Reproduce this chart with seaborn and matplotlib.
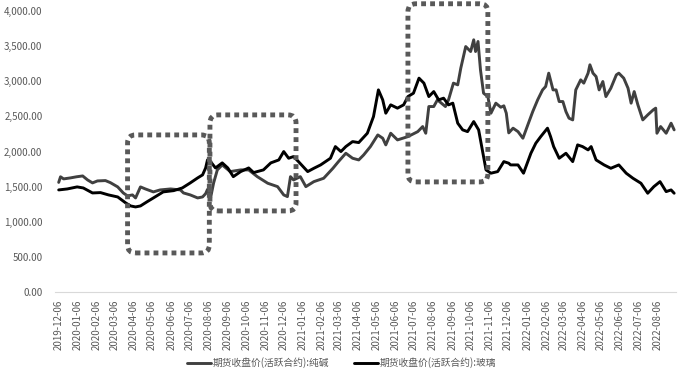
import matplotlib
matplotlib.use("Agg")
import matplotlib.pyplot as plt
import matplotlib.dates as mdates
from matplotlib.patches import FancyBboxPatch
from matplotlib.ticker import StrMethodFormatter
import seaborn as sns
import pandas as pd

soda_label = "期货收盘价(活跃合约):纯碱"
glass_label = "期货收盘价(活跃合约):玻璃"

soda_dates = ["2019-12-06","2019-12-09","2019-12-14","2019-12-25","2020-01-04","2020-01-14","2020-01-22","2020-01-30","2020-02-07","2020-02-20","2020-02-28","2020-03-11","2020-03-20","2020-03-27","2020-04-04","2020-04-09","2020-04-17","2020-04-25","2020-05-08","2020-05-19","2020-06-05","2020-06-21","2020-06-26","2020-07-07","2020-07-19","2020-07-27","2020-08-01","2020-08-04","2020-08-09","2020-08-14","2020-08-20","2020-08-28","2020-09-10","2020-09-27","2020-10-10","2020-10-24","2020-11-10","2020-11-26","2020-12-06","2020-12-12","2020-12-17","2020-12-22","2021-01-02","2021-01-11","2021-01-24","2021-02-09","2021-02-24","2021-03-05","2021-03-17","2021-03-28","2021-04-07","2021-04-15","2021-04-26","2021-05-08","2021-05-16","2021-05-21","2021-05-29","2021-06-09","2021-06-26","2021-07-12","2021-07-20","2021-07-25","2021-07-30","2021-08-07","2021-08-13","2021-08-26","2021-08-31","2021-09-08","2021-09-15","2021-09-20","2021-09-28","2021-10-06","2021-10-11","2021-10-14","2021-10-18","2021-10-22","2021-10-27","2021-11-03","2021-11-08","2021-11-16","2021-11-24","2021-11-29","2021-12-03","2021-12-07","2021-12-14","2021-12-22","2021-12-30","2022-01-07","2022-01-15","2022-01-23","2022-01-31","2022-02-05","2022-02-10","2022-02-17","2022-02-22","2022-02-27","2022-03-05","2022-03-10","2022-03-15","2022-03-21","2022-03-26","2022-04-03","2022-04-08","2022-04-15","2022-04-18","2022-04-23","2022-04-28","2022-05-03","2022-05-09","2022-05-14","2022-05-22","2022-05-31","2022-06-04","2022-06-12","2022-06-19","2022-06-24","2022-06-29","2022-07-05","2022-07-13","2022-07-21","2022-07-30","2022-08-03","2022-08-05","2022-08-11","2022-08-20","2022-08-28","2022-09-02"]
soda_values = [1560,1640,1610,1624,1640,1652,1595,1553,1581,1586,1557,1496,1410,1368,1382,1339,1496,1467,1425,1453,1467,1453,1410,1382,1339,1353,1400,1460,1339,1553,1738,1809,1714,1738,1738,1642,1548,1500,1382,1358,1642,1595,1642,1500,1571,1619,1761,1856,1975,1904,1880,1951,2070,2236,2189,2094,2260,2165,2212,2283,2355,2260,2640,2640,2735,2640,2735,2973,2949,3187,3494,3423,3590,3423,3566,3162,2830,2782,2545,2688,2630,2650,2545,2265,2332,2283,2189,2379,2568,2735,2877,2925,3115,2877,2877,2711,2711,2568,2474,2450,2877,3020,2973,3115,3234,3115,3067,2877,2996,2782,2901,3091,3115,3044,2901,2688,2853,2664,2450,2521,2593,2617,2260,2355,2260,2403,2308]

glass_dates = ["2019-12-06","2019-12-20","2020-01-05","2020-01-15","2020-01-30","2020-02-12","2020-02-25","2020-03-11","2020-03-24","2020-04-01","2020-04-09","2020-04-17","2020-04-28","2020-05-08","2020-05-24","2020-06-10","2020-06-24","2020-07-07","2020-07-19","2020-07-27","2020-08-01","2020-08-04","2020-08-09","2020-08-17","2020-08-28","2020-09-06","2020-09-15","2020-09-27","2020-10-10","2020-10-18","2020-11-03","2020-11-15","2020-11-28","2020-12-06","2020-12-14","2020-12-22","2020-12-30","2021-01-14","2021-01-24","2021-02-04","2021-02-20","2021-02-28","2021-03-09","2021-03-17","2021-03-28","2021-04-07","2021-04-21","2021-05-01","2021-05-09","2021-05-16","2021-05-21","2021-05-29","2021-06-09","2021-06-19","2021-06-26","2021-07-05","2021-07-14","2021-07-22","2021-07-30","2021-08-07","2021-08-15","2021-08-23","2021-08-31","2021-09-07","2021-09-15","2021-09-23","2021-10-01","2021-10-11","2021-10-19","2021-10-26","2021-10-31","2021-11-08","2021-11-19","2021-11-29","2021-12-07","2021-12-10","2021-12-22","2021-12-31","2022-01-12","2022-01-20","2022-01-28","2022-02-08","2022-02-13","2022-02-18","2022-02-27","2022-03-10","2022-03-21","2022-03-29","2022-04-06","2022-04-15","2022-04-20","2022-04-28","2022-05-11","2022-05-22","2022-06-04","2022-06-16","2022-06-27","2022-07-10","2022-07-21","2022-07-31","2022-08-10","2022-08-20","2022-08-28","2022-09-02"]
glass_values = [1453,1467,1496,1481,1410,1415,1382,1353,1268,1225,1211,1225,1286,1339,1425,1443,1481,1553,1624,1667,1766,1880,1856,1766,1838,1766,1642,1714,1766,1700,1738,1838,1880,1999,1904,1928,1856,1714,1761,1809,1904,2070,1999,2070,2141,2127,2260,2497,2877,2735,2545,2664,2617,2664,2782,2830,3044,2973,2782,2853,2735,2759,2664,2688,2403,2308,2283,2426,2308,1975,1738,1691,1714,1856,1833,1809,1809,1691,1975,2118,2212,2332,2212,2070,1904,1975,1856,2094,2070,2023,2070,1880,1809,1761,1809,1691,1619,1548,1406,1500,1571,1429,1453,1406]

# highlighted periods (annotation boxes): start, end, low, high
box_starts = ["2020-03-27", "2020-08-08", "2021-06-26"]
box_ends = ["2020-08-07", "2020-12-26", "2021-11-03"]
box_lows = [556, 1154, 1567]
box_highs = [2236, 2521, 4103]

sns.set_theme(style="white")
plt.rcParams["font.family"] = ["Noto Sans CJK SC", "DejaVu Sans"]

df = pd.concat([
    pd.DataFrame({"date": pd.to_datetime(soda_dates), "price": soda_values, "series": soda_label}),
    pd.DataFrame({"date": pd.to_datetime(glass_dates), "price": glass_values, "series": glass_label}),
], ignore_index=True)

fig = plt.figure(figsize=(6.83, 3.78), dpi=100)
ax = fig.add_axes([55/683, 1-292/378, (676-55)/683, (292-11)/378])

sns.lineplot(data=df, x="date", y="price", hue="series", estimator=None,
             palette={soda_label: "#404040", glass_label: "#000000"},
             linewidth=2.1, ax=ax)

ax.set_xlim(pd.Timestamp("2019-11-30"), pd.Timestamp("2022-09-05"))
ax.set_ylim(0, 4000)
ax.set_yticks(range(0, 4001, 500))
ax.yaxis.set_major_formatter(StrMethodFormatter("{x:,.2f}"))
ax.xaxis.set_major_locator(mdates.MonthLocator(bymonthday=6))
ax.xaxis.set_major_formatter(mdates.DateFormatter("%Y-%m-%d"))
ax.set_xlabel("")
ax.set_ylabel("")

for s in ["left", "top", "right"]:
    ax.spines[s].set_visible(False)
ax.spines["bottom"].set_color("#d9d9d9")
ax.spines["bottom"].set_linewidth(0.8)
ax.tick_params(axis="x", direction="out", length=4, width=0.8, color="#d9d9d9",
               labelsize=7, labelcolor="#595959", labelrotation=90, pad=1.5)
ax.tick_params(axis="y", length=0, labelsize=7, labelcolor="#595959", pad=9)
ax.grid(False)

# dotted rounded boxes
days_per_px = 1.628
val_per_px = 14.245
for s, e, lo, hi in zip(box_starts, box_ends, box_lows, box_highs):
    x0 = mdates.date2num(pd.Timestamp(s))
    x1 = mdates.date2num(pd.Timestamp(e))
    patch = FancyBboxPatch((x0, lo), x1 - x0, hi - lo,
                           boxstyle="round,pad=0,rounding_size=13",
                           mutation_aspect=val_per_px / days_per_px,
                           transform=ax.transData, fill=False,
                           edgecolor="#595959", linewidth=3.5,
                           linestyle=(0, (1, 0.85)), clip_on=False, zorder=5)
    ax.add_patch(patch)

handles, labels = ax.get_legend_handles_labels()
ax.get_legend().remove()
leg = fig.legend(handles, labels, loc="center", bbox_to_anchor=(0.5, 1-363/378),
                 ncol=2, frameon=False, fontsize=7, handlelength=2.5,
                 handletextpad=0.15, columnspacing=2.6)
for t in leg.get_texts():
    t.set_color("#595959")

fig.savefig("out.png", dpi=100)
